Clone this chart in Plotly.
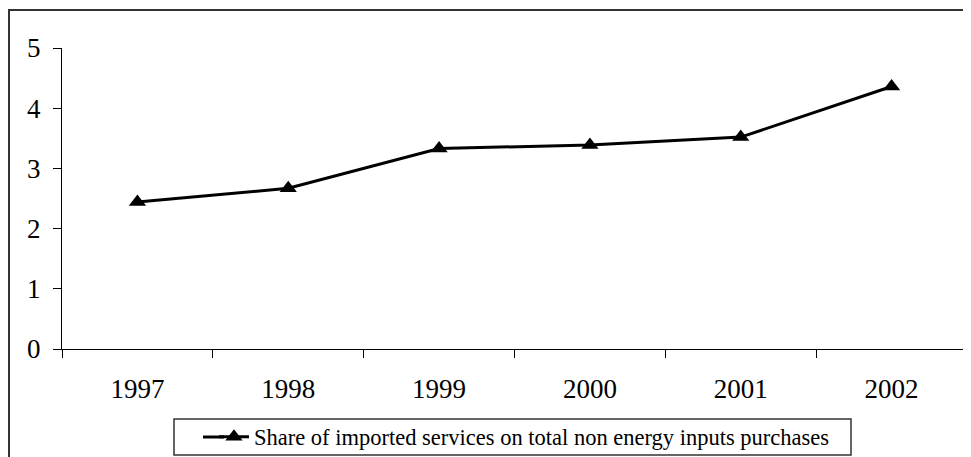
import plotly.graph_objects as go

years = ["1997", "1998", "1999", "2000", "2001", "2002"]
share = [2.44, 2.67, 3.33, 3.39, 3.52, 4.36]
series_name = "Share of imported services on total non energy inputs purchases"

# page body has an 8px margin, so figure pixel = window pixel - 8
OFF = 8
W, H = 971, 457
L, R, T, B = 62 - OFF, 971 - (967 - OFF), 48 - OFF, 457 - (349 - OFF)
pw, ph = W - L - R, H - T - B

def px_x(p):  # window pixel -> paper x
    return (p - OFF - L) / pw

def px_y(p):  # window pixel -> paper y
    return 1 - (p - OFF - T) / ph

fig = go.Figure()
fig.add_trace(go.Scatter(
    x=years, y=share, mode="lines+markers", name=series_name,
    line=dict(color="black", width=3),
    marker=dict(symbol="triangle-up", size=15, color="black"),
    showlegend=True,
))

fig.update_layout(
    width=W, height=H,
    margin=dict(l=L, r=R, t=T, b=B, autoexpand=False),
    paper_bgcolor="white", plot_bgcolor="white",
    font=dict(family="Liberation Serif", color="black"),
    showlegend=True,
    legend=dict(
        orientation="h", x=px_x(214), xanchor="left", y=px_y(437), yanchor="middle",
        borderwidth=0, font=dict(size=22.5, family="Liberation Serif"),
        bgcolor="rgba(0,0,0,0)",
    ),
    xaxis=dict(
        type="category", range=[-0.5, 5.5], tickson="boundaries",
        ticks="outside", ticklen=8, tickcolor="black", tickwidth=1,
        showline=True, linecolor="black", linewidth=1, showgrid=False,
        tickfont=dict(size=27, family="Liberation Serif"), zeroline=False,
        ticklabelstandoff=16,
    ),
    yaxis=dict(
        range=[0, 5], dtick=1, ticks="outside", ticklen=8, tickcolor="black",
        showline=True, linecolor="black", linewidth=1, showgrid=False, zeroline=False,
        tickfont=dict(size=27, family="Liberation Serif"), ticklabelstandoff=7,
    ),
    shapes=[
        dict(type="rect", xref="paper", yref="paper",
             x0=px_x(9), x1=px_x(1000), y0=px_y(490), y1=px_y(10),
             line=dict(color="#333333", width=2), layer="below"),
        dict(type="rect", xref="paper", yref="paper",
             x0=px_x(174), x1=px_x(851), y0=px_y(455), y1=px_y(419),
             line=dict(color="#333333", width=1.5), fillcolor="white", layer="below"),
        dict(type="line", xref="paper", yref="paper",
             x0=px_x(203), x1=px_x(224), y0=px_y(437), y1=px_y(437),
             line=dict(color="black", width=3)),
    ],
)

fig.write_html("out.html")
